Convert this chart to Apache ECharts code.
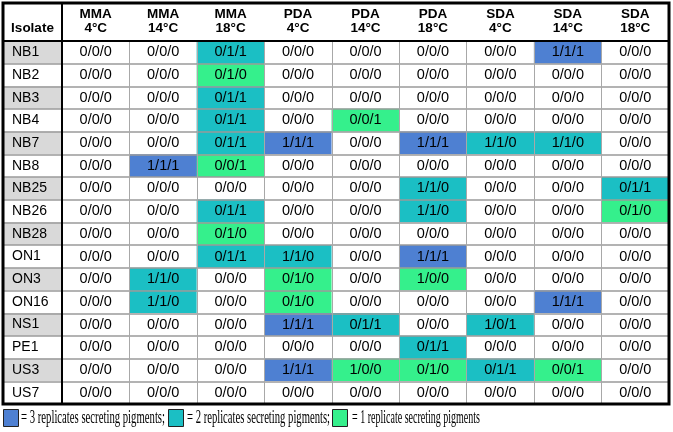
<!DOCTYPE html>
<html>
<head>
<meta charset="utf-8">
<script src="https://cdn.jsdelivr.net/npm/echarts@6/dist/echarts.min.js"></script>
<style>html,body{margin:0;padding:0;background:#fff;}#chart{width:673px;height:432px;}</style>
</head>
<body>
<div id="chart"></div>
<script>
// ---- data ----
const isolates = ['NB1','NB2','NB3','NB4','NB7','NB8','NB25','NB26','NB28','ON1','ON3','ON16','NS1','PE1','US3','US7'];
const media = ['MMA','MMA','MMA','PDA','PDA','PDA','SDA','SDA','SDA'];
const temps = ['4°C','14°C','18°C','4°C','14°C','18°C','4°C','14°C','18°C'];
const mma4  = ['0/0/0','0/0/0','0/0/0','0/0/0','0/0/0','0/0/0','0/0/0','0/0/0','0/0/0','0/0/0','0/0/0','0/0/0','0/0/0','0/0/0','0/0/0','0/0/0'];
const mma14 = ['0/0/0','0/0/0','0/0/0','0/0/0','0/0/0','1/1/1','0/0/0','0/0/0','0/0/0','0/0/0','1/1/0','1/1/0','0/0/0','0/0/0','0/0/0','0/0/0'];
const mma18 = ['0/1/1','0/1/0','0/1/1','0/1/1','0/1/1','0/0/1','0/0/0','0/1/1','0/1/0','0/1/1','0/0/0','0/0/0','0/0/0','0/0/0','0/0/0','0/0/0'];
const pda4  = ['0/0/0','0/0/0','0/0/0','0/0/0','1/1/1','0/0/0','0/0/0','0/0/0','0/0/0','1/1/0','0/1/0','0/1/0','1/1/1','0/0/0','1/1/1','0/0/0'];
const pda14 = ['0/0/0','0/0/0','0/0/0','0/0/1','0/0/0','0/0/0','0/0/0','0/0/0','0/0/0','0/0/0','0/0/0','0/0/0','0/1/1','0/0/0','1/0/0','0/0/0'];
const pda18 = ['0/0/0','0/0/0','0/0/0','0/0/0','1/1/1','0/0/0','1/1/0','1/1/0','0/0/0','1/1/1','1/0/0','0/0/0','0/0/0','0/1/1','0/1/0','0/0/0'];
const sda4  = ['0/0/0','0/0/0','0/0/0','0/0/0','1/1/0','0/0/0','0/0/0','0/0/0','0/0/0','0/0/0','0/0/0','0/0/0','1/0/1','0/0/0','0/1/1','0/0/0'];
const sda14 = ['1/1/1','0/0/0','0/0/0','0/0/0','1/1/0','0/0/0','0/0/0','0/0/0','0/0/0','0/0/0','0/0/0','1/1/1','0/0/0','0/0/0','0/0/1','0/0/0'];
const sda18 = ['0/0/0','0/0/0','0/0/0','0/0/0','0/0/0','0/0/0','0/1/1','0/1/0','0/0/0','0/0/0','0/0/0','0/0/0','0/0/0','0/0/0','0/0/0','0/0/0'];
const legendTexts = ['= 3 replicates secreting pigments;', '= 2 replicates secreting pigments;', '= 1 replicate secreting pigments'];

// ---- build ----
const columns = [mma4, mma14, mma18, pda4, pda14, pda18, sda4, sda14, sda18];
const conditions = media.map((m, i) => m + '\n' + temps[i]);
const countOnes = s => s.split('/').filter(v => v === '1').length;
const cellData = [];
columns.forEach((col, x) => col.forEach((s, y) => cellData.push([x, y, countOnes(s)])));
const shadeData = isolates.map((n, i) => [0, i, i % 2 === 0 ? 1 : 0]);

const BLUE = '#4E80D2', TEAL = '#1BBFC4', GREEN = '#35F08C', SHADE = '#D9D9D9';
const FONT = '"Liberation Sans", Arial, sans-serif';
const SERIF = '"Liberation Serif", "Times New Roman", serif';

const L = 3, T = 41, COLX = 62, R = 669, B = 404, TOP = 3;

// legend text scale (source text is horizontally condensed)
const LFS = 18.5;
const cv = document.createElement('canvas').getContext('2d');
cv.font = LFS + 'px ' + SERIF;
const legendX = [21, 187, 352];
const legendW = [144, 143, 128];
const squares = [[3, BLUE], [168, TEAL], [332, GREEN]];

const graphics = [
  {type:'rect', z:100, shape:{x:L, y:TOP, width:R - L, height:B - TOP}, style:{fill:null, stroke:'#000', lineWidth:3}},
  {type:'line', z:100, shape:{x1:COLX, y1:TOP, x2:COLX, y2:B}, style:{stroke:'#000', lineWidth:2}},
  {type:'line', z:100, shape:{x1:L, y1:T, x2:R, y2:T}, style:{stroke:'#000', lineWidth:2}}
];
squares.forEach(([x, c]) => graphics.push({type:'rect', z:100, shape:{x:x + 0.5, y:409.5, width:15, height:17}, style:{fill:c, stroke:'#222', lineWidth:1}}));
legendTexts.forEach((t, i) => {
  const w = cv.measureText(t).width;
  graphics.push({type:'text', z:100, x:legendX[i], y:418, scaleX: legendW[i] / w,
    style:{text:t, font:LFS + 'px ' + SERIF, fill:'#000', align:'left', verticalAlign:'middle'}});
});

const chart = echarts.init(document.getElementById('chart'), null, {renderer:'canvas'});
chart.setOption({
  animation:false,
  backgroundColor:'#fff',
  grid:[
    {left:L, top:T, width:COLX - L, height:B - T},
    {left:COLX, top:T, width:R - COLX, height:B - T}
  ],
  xAxis:[
    {gridIndex:0, type:'category', data:['Isolate'], position:'top',
     axisLine:{show:false}, axisTick:{show:false},
     axisLabel:{fontWeight:'bold', fontSize:13.5, fontFamily:FONT, color:'#000', margin:6},
     splitLine:{show:false}},
    {gridIndex:1, type:'category', data:conditions, position:'top', z:5,
     axisLine:{show:false}, axisTick:{show:false},
     axisLabel:{interval:0, fontWeight:'bold', fontSize:13.5, lineHeight:14, fontFamily:FONT, color:'#000', margin:6},
     splitLine:{show:true, interval:0, lineStyle:{color:'#a8a8a8', width:1}}}
  ],
  yAxis:[
    {gridIndex:0, type:'category', data:isolates, inverse:true, z:5,
     axisLine:{show:false}, axisTick:{show:false},
     axisLabel:{inside:true, margin:9, interval:0, fontSize:14, fontFamily:FONT, color:'#000'},
     splitLine:{show:true, interval:0, lineStyle:{color:'#9a9a9a', width:1.5}}},
    {gridIndex:1, type:'category', data:isolates, inverse:true, z:5,
     axisLine:{show:false}, axisTick:{show:false}, axisLabel:{show:false},
     splitLine:{show:true, interval:0, lineStyle:{color:'#9a9a9a', width:1.5}}}
  ],
  visualMap:[
    {type:'piecewise', show:false, seriesIndex:0, dimension:2,
     pieces:[{value:0, color:'#ffffff'}, {value:1, color:SHADE}]},
    {type:'piecewise', show:false, seriesIndex:1, dimension:2,
     pieces:[{value:0, color:'#ffffff'}, {value:1, color:GREEN}, {value:2, color:TEAL}, {value:3, color:BLUE}]}
  ],
  series:[
    {type:'heatmap', xAxisIndex:0, yAxisIndex:0, data:shadeData, label:{show:false}, emphasis:{disabled:true}},
    {type:'heatmap', xAxisIndex:1, yAxisIndex:1, data:cellData, emphasis:{disabled:true},
     label:{show:true, fontSize:14.5, fontFamily:FONT, color:'#000',
       formatter: p => columns[p.value[0]][p.value[1]]}}
  ],
  graphic:graphics
});
</script>
</body>
</html>
